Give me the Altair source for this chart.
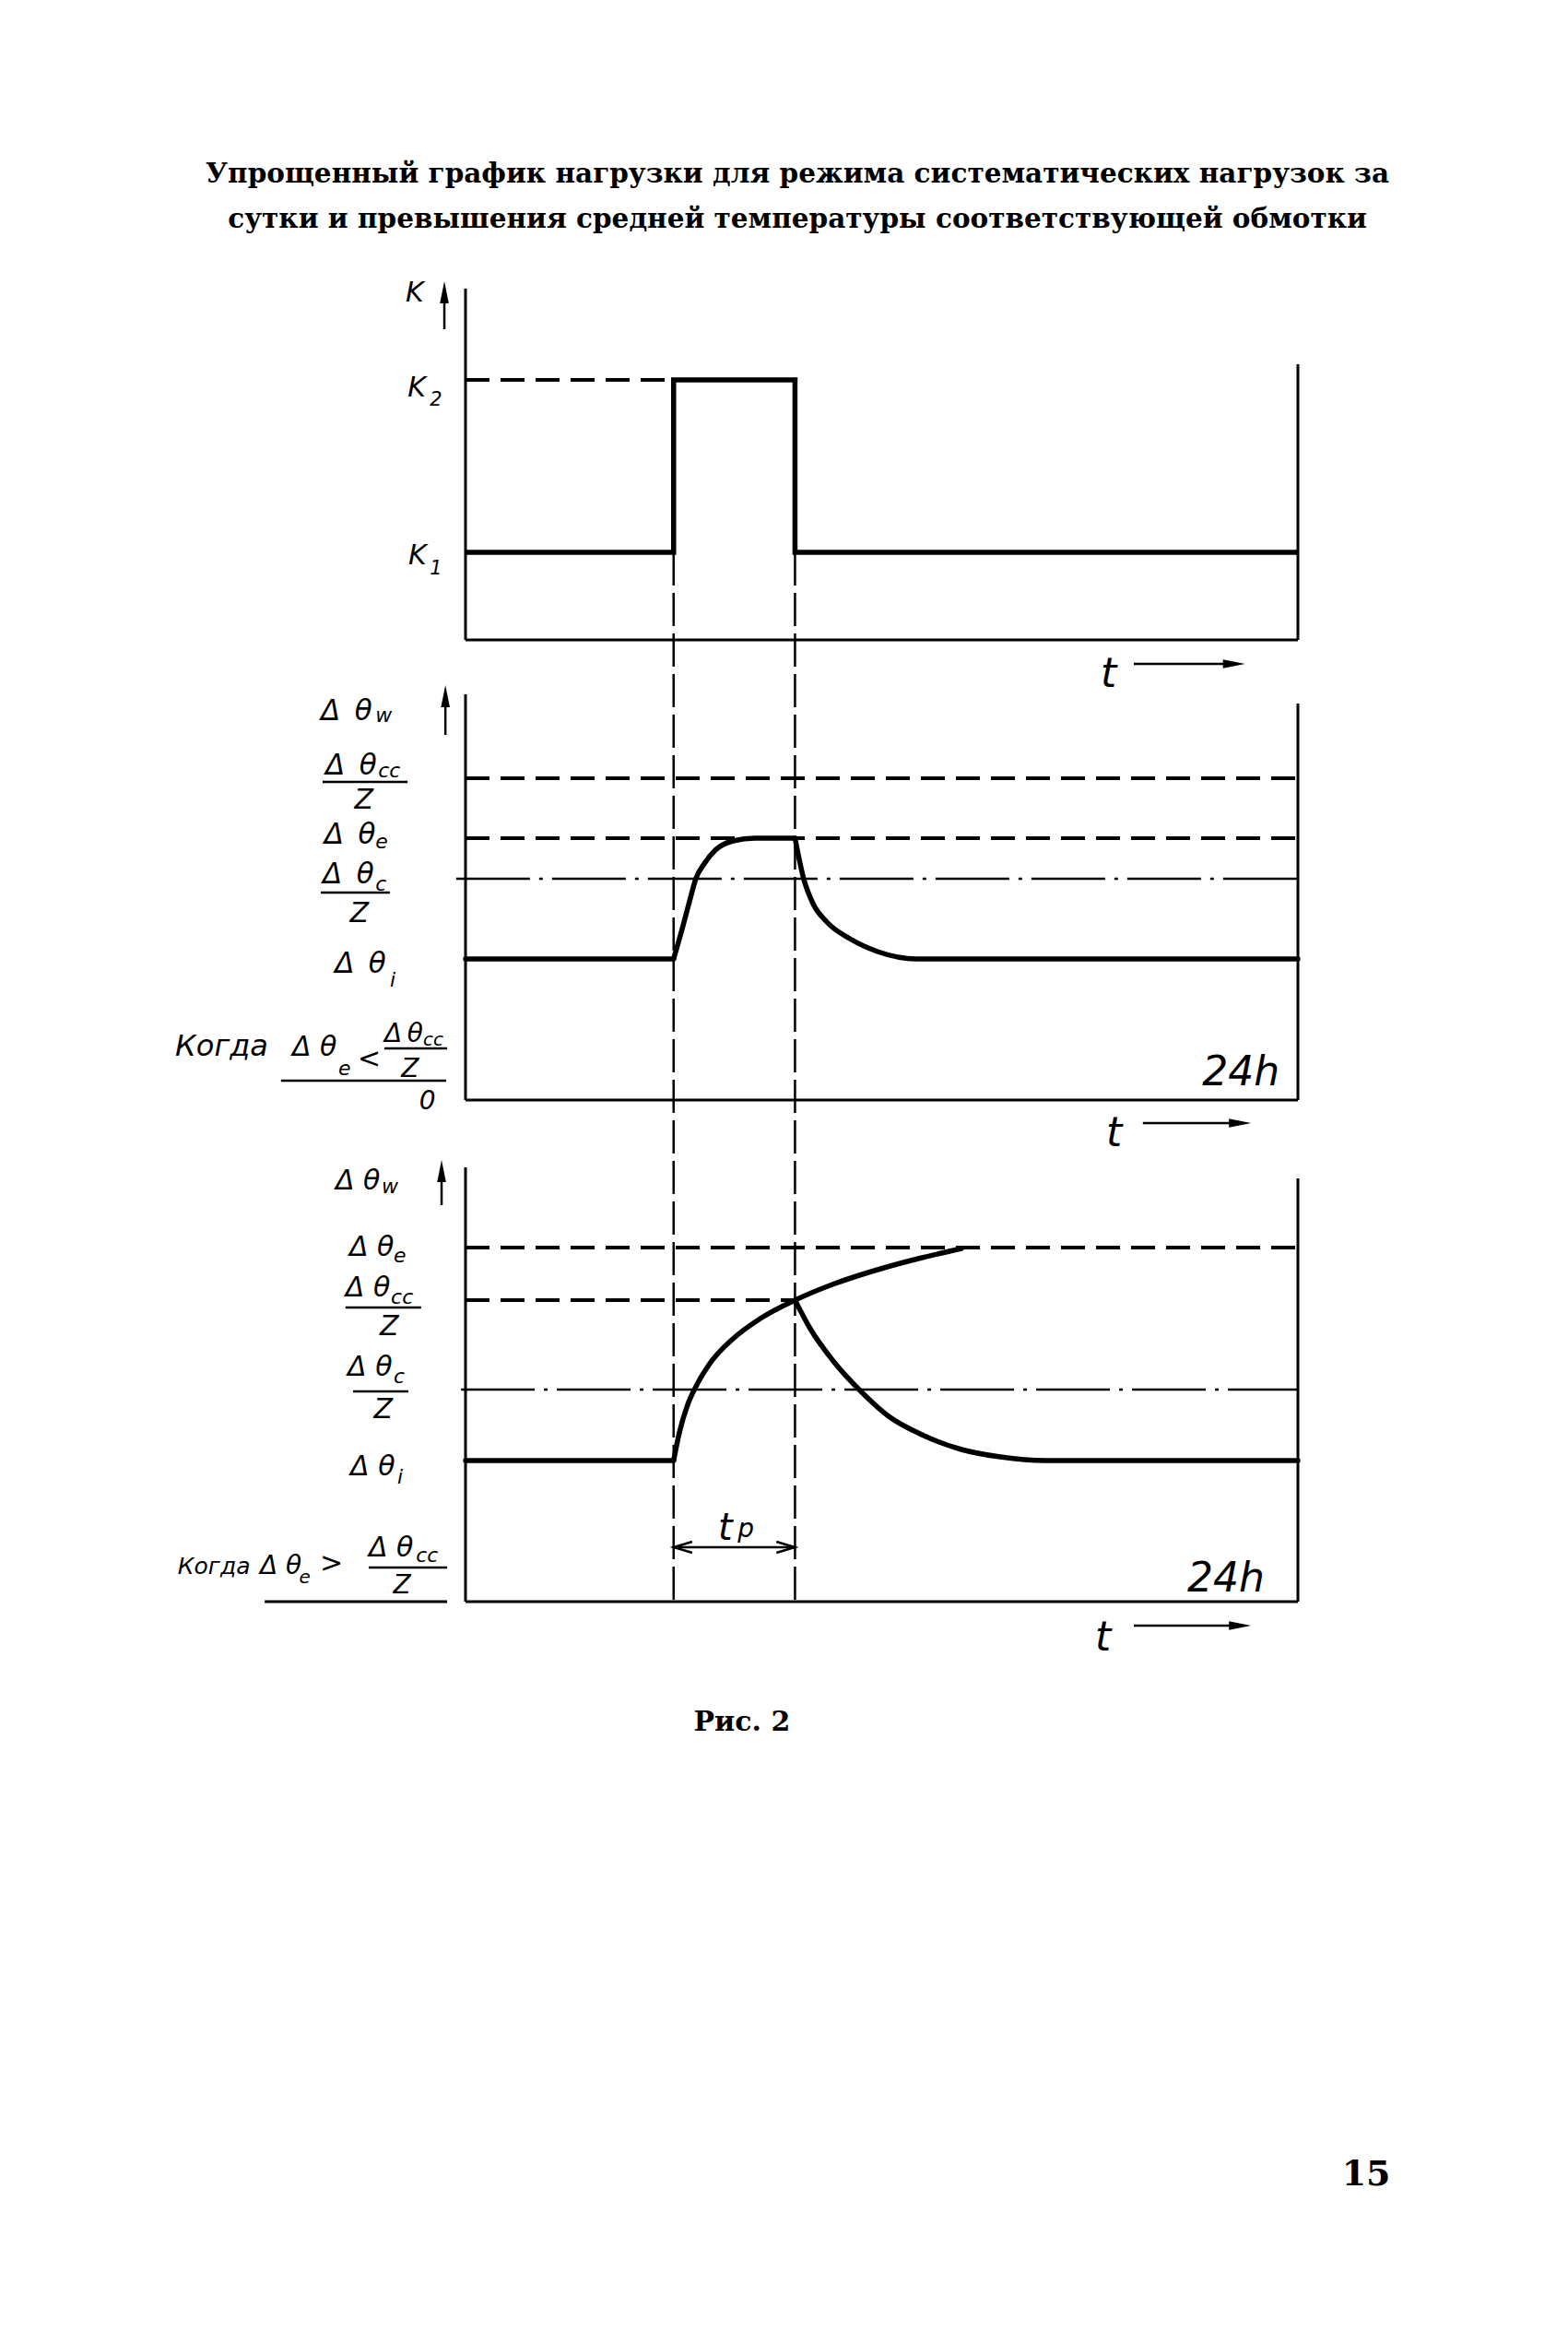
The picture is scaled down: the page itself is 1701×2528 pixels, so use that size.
import altair as alt
import pandas as pd

# ---------------- drawing frame (x in hours, y in drawing units) ----------------
PX_PER_H = 37.625          # drawing units per hour
X0 = 505                   # position of t = 0 h
W, H = 1685, 2512
XMIN = (8 - X0) / PX_PER_H
XMAX = (8 + W - X0) / PX_PER_H
BASE = {"p1": 694, "p2": 1193, "p3": 1737}   # zero line of each panel

# ---------------- values ----------------
T_ON, T_OFF, T_END = 6.0, 9.5, 24.0

# panel 1: load factor K
K1, K2 = 95, 282
P1_AXIS_TOP, P1_RIGHT_TOP = 381, 299

# panel 2: case  Δθe < Δθcc / Z
P2_I, P2_C, P2_E, P2_CC = 153, 240, 284, 349
P2_AXIS_TOP, P2_RIGHT_TOP = 440, 430
P2_RISE_H = [6.0, 6.25, 6.49, 6.64, 6.88, 7.2, 7.71, 8.35, 9.5]
P2_RISE_V = [153, 186, 220, 240, 256, 271, 281, 284, 284]
P2_DECAY_H = [9.5, 9.75, 10.02, 10.42, 11.08, 11.88, 13.0, 24.0]
P2_DECAY_V = [284, 240, 213, 193, 175, 161, 153, 153]

# panel 3: case  Δθe > Δθcc / Z
P3_I, P3_C, P3_CC, P3_E = 153, 230, 327, 384
P3_AXIS_TOP, P3_RIGHT_TOP = 471, 459
P3_RISE_H = [6.0, 6.17, 6.41, 6.64, 7.04, 7.71, 8.5, 9.5, 10.58, 11.88, 13.16, 14.3]
P3_RISE_V = [153, 184, 214, 233, 258, 285, 307, 327, 344, 360, 373, 383]
P3_DECAY_H = [9.5, 9.94, 10.58, 11.4, 12.2, 13.16, 14.3, 15.42, 16.7, 24.0]
P3_DECAY_V = [327, 296, 262, 228, 201, 181, 165, 157, 153, 153]

TITLE_1 = "Упрощенный график нагрузки для режима  систематических нагрузок за"
TITLE_2 = "сутки и превышения средней температуры соответствующей обмотки"

DT_WIDE = "Δ\u2002θ"     # Δθ as drawn in the middle panel
DT = "Δ θ"
DT_TIGHT = "Δ\u2009θ"


def Y(panel, lvl):
    return BASE[panel] - lvl


def seg(panel, h, h2, l, l2):
    return {"h": h, "h2": h2, "y": Y(panel, l), "y2": Y(panel, l2)}


# ---------------- tables ----------------
frame = pd.DataFrame([
    seg("p1", 0, 0, 0, P1_AXIS_TOP), seg("p1", T_END, T_END, 0, P1_RIGHT_TOP), seg("p1", 0, T_END, 0, 0),
    seg("p2", 0, 0, 0, P2_AXIS_TOP), seg("p2", T_END, T_END, 0, P2_RIGHT_TOP), seg("p2", 0, T_END, 0, 0),
    seg("p3", 0, 0, 0, P3_AXIS_TOP), seg("p3", T_END, T_END, 0, P3_RIGHT_TOP), seg("p3", 0, T_END, 0, 0),
    seg("p3", -5.79, -0.53, 0, 0),
])
thin = pd.DataFrame([
    # fraction bars and underline
    seg("p2", -4.12, -1.67, P2_CC - 4, P2_CC - 4),
    seg("p2", -4.17, -2.18, P2_C - 15, P2_C - 15),
    seg("p2", -2.34, -0.53, 56, 56),
    seg("p2", -5.32, -0.56, 21, 21),
    seg("p3", -3.46, -1.28, P3_CC - 8, P3_CC - 8),
    seg("p3", -3.24, -1.65, P3_C - 2, P3_C - 2),
    seg("p3", -2.79, -0.53, 37, 37),
    # t arrows
    seg("p1", 19.27, 22.0, -26, -26),
    seg("p2", 19.53, 22.2, -25, -25),
    seg("p3", 19.27, 22.2, -26, -26),
    # axis arrows
    seg("p1", -0.61, -0.61, 337, 378),
    seg("p2", -0.58, -0.58, 396, 438),
    seg("p3", -0.69, -0.69, 430, 467),
    # t_p dimension
    seg("p3", T_ON, T_OFF, 59, 59),
])
dashed = pd.DataFrame([
    seg("p1", 0, T_ON, K2, K2),
    seg("p2", 0, T_END, P2_CC, P2_CC),
    seg("p2", 0, T_END, P2_E, P2_E),
    seg("p3", 0, T_END, P3_E, P3_E),
    seg("p3", 0, T_OFF, P3_CC, P3_CC),
])
dashdot = pd.DataFrame([
    seg("p2", -0.27, T_END, P2_C, P2_C),
    seg("p3", -0.13, T_END, P3_C, P3_C),
])
vdash = pd.DataFrame([
    {"h": T_ON, "h2": T_ON, "y": Y("p1", K1), "y2": Y("p3", 0)},
    {"h": T_OFF, "h2": T_OFF, "y": Y("p1", K1), "y2": Y("p3", 0)},
])

step = pd.DataFrame({
    "h": [0, T_ON, T_ON, T_OFF, T_OFF, T_END],
    "y": [Y("p1", v) for v in [K1, K1, K2, K2, K1, K1]],
    "i": list(range(6)),
})

curve_rows = []
def add_curve(name, panel, hs, vs):
    for k, (h, v) in enumerate(zip(hs, vs)):
        curve_rows.append({"seg": name, "h": h, "y": Y(panel, v), "i": k})

add_curve("p2_pre", "p2", [0, T_ON], [P2_I, P2_I])
add_curve("p2_rise", "p2", P2_RISE_H, P2_RISE_V)
add_curve("p2_decay", "p2", P2_DECAY_H, P2_DECAY_V)
add_curve("p3_pre", "p3", [0, T_ON], [P3_I, P3_I])
add_curve("p3_rise", "p3", P3_RISE_H, P3_RISE_V)
add_curve("p3_decay", "p3", P3_DECAY_H, P3_DECAY_V)
curves = pd.DataFrame(curve_rows)


def txt(panel, h, lvl, text, fs):
    return {"h": h, "y": Y(panel, lvl), "text": text, "fs": fs}


labels_left = pd.DataFrame([
    txt("p1", -1.73, 367, "K", 30),
    txt("p1", -1.67, 264, "K", 30), txt("p1", -1.03, 254, "2", 21),
    txt("p1", -1.65, 82, "K", 30), txt("p1", -1.03, 71, "1", 21),

    txt("p2", -4.17, 412, DT_WIDE, 31), txt("p2", -2.6, 410, "w", 22),
    txt("p2", -4.04, 353, DT_WIDE, 31), txt("p2", -2.52, 350, "cc", 22),
    txt("p2", -4.07, 278, DT_WIDE, 31), txt("p2", -2.6, 273, "e", 22),
    txt("p2", -4.12, 235, DT_WIDE, 31), txt("p2", -2.6, 227, "c", 22),
    txt("p2", -3.77, 138, DT_WIDE, 31), txt("p2", -2.18, 123, "i", 22),
    txt("p2", -8.37, 48, "Когда", 32),
    txt("p2", -5.0, 48, DT, 30), txt("p2", -3.67, 27, "e", 22),
    txt("p2", -3.11, 35, "<", 30),
    txt("p2", -2.34, 63, DT_TIGHT, 28), txt("p2", -1.22, 59, "cc", 20),

    txt("p3", -3.75, 447, DT, 30), txt("p3", -2.42, 443, "w", 22),
    txt("p3", -3.35, 375, DT, 30), txt("p3", -2.07, 368, "e", 22),
    txt("p3", -3.46, 331, DT, 30), txt("p3", -2.15, 323, "cc", 22),
    txt("p3", -3.40, 245, DT, 30), txt("p3", -2.07, 237, "c", 22),
    txt("p3", -3.32, 137, DT, 30), txt("p3", -1.97, 128, "i", 22),
    txt("p3", -8.3, 30, "Когда", 25),
    txt("p3", -5.93, 30, DT, 28), txt("p3", -4.8, 20, "e", 20),
    txt("p3", -4.2, 32, ">", 30),
    txt("p3", -2.79, 49, DT, 30), txt("p3", -1.43, 43, "cc", 22),

    txt("p1", 18.31, -51, "t", 44),
    txt("p2", 18.47, -50, "t", 44),
    txt("p3", 18.15, -53, "t", 44),
    txt("p3", 7.28, 67, "t", 40), txt("p3", 7.85, 70, "p", 28),
])
labels_center = pd.DataFrame([
    txt("p2", -2.93, 316, "Z", 30),
    txt("p2", -3.06, 193, "Z", 30),
    txt("p2", -1.6, 25, "Z", 28),
    txt("p2", -1.1, -10, "0", 28),
    txt("p3", -2.2, 289, "Z", 30),
    txt("p3", -2.37, 199, "Z", 30),
    txt("p3", -1.83, 9, "Z", 28),
])
labels_right = pd.DataFrame([
    txt("p2", 23.47, 16, "24h", 44),
    txt("p3", 23.04, 11, "24h", 44),
])
labels_bold = pd.DataFrame([
    txt("p1", 9.57, 496, TITLE_1, 29.5),
    txt("p1", 9.57, 447, TITLE_2, 29.5),
    txt("p3", 7.97, -140, "Рис. 2", 30),
    txt("p3", 25.97, -633, "15", 38),
])

heads_up = pd.DataFrame([
    {"h": -0.61, "y": Y("p1", 377)},
    {"h": -0.58, "y": Y("p2", 438)},
    {"h": -0.69, "y": Y("p3", 467)},
])
heads_right = pd.DataFrame([
    {"h": 22.16, "y": Y("p1", -26)},
    {"h": 22.33, "y": Y("p2", -25)},
    {"h": 22.33, "y": Y("p3", -26)},
])
chev_left = pd.DataFrame([{"h": T_ON + 0.27, "y": Y("p3", 59)}])
chev_right = pd.DataFrame([{"h": T_OFF - 0.27, "y": Y("p3", 59)}])

# ---------------- encodings ----------------
xs = alt.Scale(domain=[XMIN, XMAX], nice=False, zero=False)
ys = alt.Scale(domain=[8, 8 + H], reverse=True, nice=False, zero=False)
X = alt.X("h:Q", scale=xs, axis=None)
Yc = alt.Y("y:Q", scale=ys, axis=None)


def rules(df, **kw):
    return alt.Chart(df).mark_rule(color="black", **kw).encode(
        x=X, x2="h2:Q", y=Yc, y2="y2:Q")


def texts(df, **kw):
    return alt.Chart(df).mark_text(color="black", baseline="alphabetic", **kw).encode(
        x=X, y=Yc, text="text:N", size=alt.Size("fs:Q", scale=None, legend=None))


layers = [
    rules(vdash, strokeWidth=2.5, strokeDash=[36, 8]),
    rules(dashed, strokeWidth=4, strokeDash=[26, 12]),
    rules(dashdot, strokeWidth=2.5, strokeDash=[80, 10, 4, 10]),
    rules(frame, strokeWidth=3),
    rules(thin, strokeWidth=2.5),
    alt.Chart(step).mark_line(color="black", strokeWidth=5.5, strokeJoin="miter").encode(
        x=X, y=Yc, order="i:Q"),
    alt.Chart(curves).mark_line(color="black", strokeWidth=5.5, interpolate="monotone",
                                strokeCap="round").encode(
        x=X, y=Yc, detail="seg:N", order="i:Q"),
    alt.Chart(heads_up).mark_point(shape="M0,-1L0.4,1L-0.4,1Z", filled=True, size=576,
                                   color="black", opacity=1).encode(x=X, y=Yc),
    alt.Chart(heads_right).mark_point(shape="M1,0L-1,-0.4L-1,0.4Z", filled=True, size=576,
                                      color="black", opacity=1).encode(x=X, y=Yc),
    alt.Chart(chev_left).mark_point(shape="M1,-0.6L-1,0L1,0.6", filled=False, size=400,
                                    strokeWidth=2.5, color="black", opacity=1).encode(x=X, y=Yc),
    alt.Chart(chev_right).mark_point(shape="M-1,-0.6L1,0L-1,0.6", filled=False, size=400,
                                     strokeWidth=2.5, color="black", opacity=1).encode(x=X, y=Yc),
    texts(labels_left, align="left", font="DejaVu Sans", fontStyle="italic"),
    texts(labels_center, align="center", font="DejaVu Sans", fontStyle="italic"),
    texts(labels_right, align="right", font="DejaVu Sans", fontStyle="italic"),
    texts(labels_bold, align="center", font="DejaVu Serif", fontWeight="bold"),
]

chart = alt.layer(*layers).properties(
    width=W, height=H, padding=0,
    autosize=alt.AutoSizeParams(type="none"),
    background="white",
).configure_view(stroke=None)

chart.save("out.html", embed_options={"renderer": "svg", "actions": False})
